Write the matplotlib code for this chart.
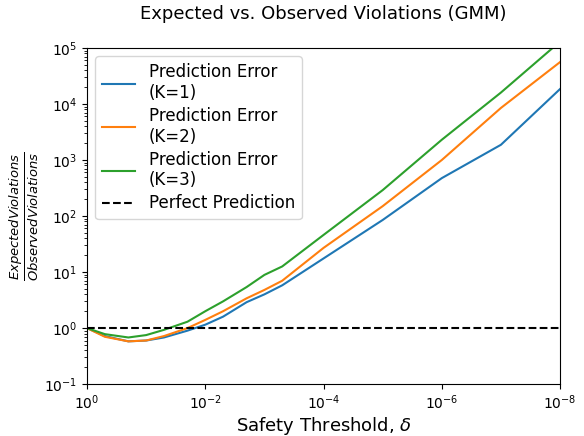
import numpy as np
from matplotlib import pyplot as plt

# safety thresholds (delta) and expected/observed ratios
delta = [1, 0.5, 0.2, 0.1, 0.05, 0.02, 0.01, 0.005, 0.002, 0.001, 5e-4,
         1e-4, 1e-5, 1e-6, 1e-7, 1e-8]
ratio_k1 = [1.0, 0.72, 0.58, 0.6, 0.68, 0.9, 1.15, 1.6, 2.9, 4.0, 5.8,
            17.5, 85, 475, 1870, 1.85e4]
ratio_k2 = [1.0, 0.7, 0.58, 0.6, 0.72, 1.0, 1.4, 2.0, 3.4, 4.8, 7.0,
            27, 150, 1000, 8500, 5.6e4]
ratio_k3 = [1.0, 0.78, 0.68, 0.75, 0.93, 1.3, 2.0, 3.0, 5.4, 8.9, 12.6,
            46, 290, 2300, 1.6e4, 1.3e5]
xticks = [1, 1e-2, 1e-4, 1e-6, 1e-8]

series = [(ratio_k1, 'Prediction Error\n(K=1)'),
          (ratio_k2, 'Prediction Error\n(K=2)'),
          (ratio_k3, 'Prediction Error\n(K=3)')]

fig = plt.figure(figsize=(5.84, 4.36), dpi=100)
ax = fig.add_axes([0.149, 0.119, 0.81, 0.771])

for vals, lab in series:
    ax.plot(delta, vals, label=lab)
ax.axhline(1, color='black', linestyle='--', label='Perfect Prediction')

ax.set_xscale('log')
ax.set_yscale('log')
ax.set_xlim(1, 1e-8)
ax.set_ylim(1e-1, 1e5)
ax.set_xticks(xticks)
ax.xaxis.set_minor_locator(plt.NullLocator())

ax.set_xlabel(r'Safety Threshold, $\delta$', fontsize=13, labelpad=2)
ax.set_ylabel(r'$\frac{Expected Violations}{Observed Violations}$', fontsize=13.5, labelpad=2)
ax.set_title('Expected vs. Observed Violations (GMM)', fontsize=13, pad=21)
ax.legend(loc='upper left', fontsize=12, borderaxespad=0.5, labelspacing=0.3)

fig.savefig('out.png', dpi=100)
